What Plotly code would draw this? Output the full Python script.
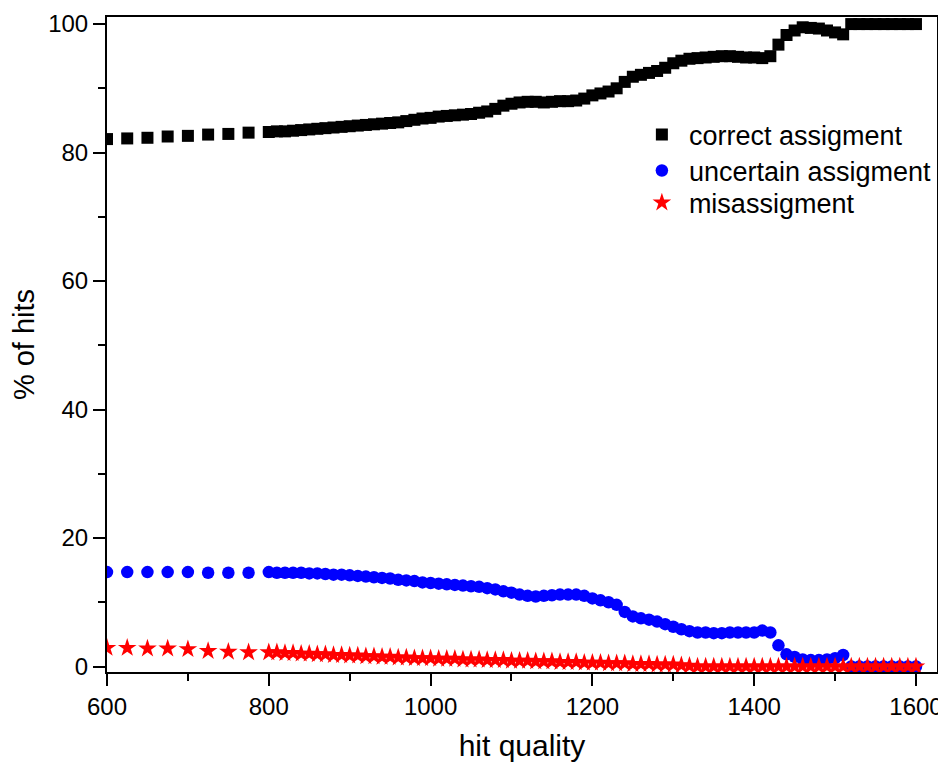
import plotly.graph_objects as go

# ---- data ----
hit_quality = [600, 625, 650, 675, 700, 725, 750, 775,
               800, 810, 820, 830, 840, 850, 860, 870, 880, 890,
               900, 910, 920, 930, 940, 950, 960, 970, 980, 990,
               1000, 1010, 1020, 1030, 1040, 1050, 1060, 1070, 1080, 1090,
               1100, 1110, 1120, 1130, 1140, 1150, 1160, 1170, 1180, 1190,
               1200, 1210, 1220, 1230, 1240, 1250, 1260, 1270, 1280, 1290,
               1300, 1310, 1320, 1330, 1340, 1350, 1360, 1370, 1380, 1390,
               1400, 1410, 1420, 1430, 1440, 1450, 1460, 1470, 1480, 1490,
               1500, 1510, 1520, 1530, 1540, 1550, 1560, 1570, 1580, 1590,
               1600]

correct = [82.1, 82.2, 82.3, 82.5, 82.6, 82.8, 82.9, 83.1,
           83.2, 83.3, 83.3, 83.4, 83.5, 83.6, 83.7, 83.8, 83.9, 84.0,
           84.1, 84.2, 84.3, 84.4, 84.5, 84.6, 84.7, 84.9, 85.1, 85.3,
           85.4, 85.6, 85.7, 85.8, 85.9, 86.0, 86.2, 86.4, 86.8, 87.3,
           87.6, 87.8, 87.9, 87.9, 87.8, 87.9, 88.0, 88.0, 88.1, 88.4,
           88.9, 89.2, 89.5, 90.0, 91.0, 91.8, 92.1, 92.4, 92.7, 93.2,
           93.9, 94.3, 94.6, 94.7, 94.8, 94.9, 95.0, 95.0, 94.9, 94.8,
           94.8, 94.7, 95.0, 96.8, 98.3, 99.0, 99.5, 99.4, 99.3, 99.0,
           98.7, 98.4, 100, 100, 100, 100, 100, 100, 100, 100,
           100]

uncertain = [14.7, 14.7, 14.7, 14.7, 14.7, 14.6, 14.6, 14.6,
             14.7, 14.6, 14.6, 14.6, 14.6, 14.5, 14.5, 14.4, 14.3, 14.3,
             14.2, 14.1, 14.0, 13.9, 13.8, 13.7, 13.5, 13.4, 13.3, 13.1,
             13.0, 12.9, 12.8, 12.7, 12.6, 12.5, 12.4, 12.2, 12.0, 11.7,
             11.5, 11.2, 11.0, 10.9, 11.0, 11.1, 11.2, 11.2, 11.2, 11.0,
             10.6, 10.3, 10.0, 9.6, 8.5, 7.8, 7.5, 7.3, 7.0, 6.6,
             6.2, 5.8, 5.5, 5.3, 5.3, 5.2, 5.2, 5.3, 5.3, 5.3,
             5.3, 5.6, 5.3, 3.3, 1.9, 1.5, 1.1, 1.0, 1.0, 1.1,
             1.3, 1.8, 0, 0, 0, 0, 0, 0, 0, 0,
             0]

misassigned = [2.9, 2.9, 2.8, 2.8, 2.7, 2.4, 2.3, 2.2,
               2.2, 2.2, 2.1, 2.1, 2.0, 2.0, 1.9, 1.9, 1.8, 1.8,
               1.7, 1.7, 1.6, 1.6, 1.5, 1.5, 1.4, 1.4, 1.3, 1.3,
               1.3, 1.2, 1.2, 1.2, 1.1, 1.1, 1.1, 1.0, 1.0, 1.0,
               0.9, 0.9, 0.9, 0.8, 0.8, 0.8, 0.7, 0.7, 0.7, 0.6,
               0.6, 0.6, 0.5, 0.5, 0.5, 0.4, 0.4, 0.4, 0.3, 0.3,
               0.3, 0.2, 0.1, 0, 0, 0, 0, 0, 0, 0,
               0, 0, 0, 0, 0, 0, 0, 0, 0, 0,
               0, 0, 0, 0, 0, 0, 0, 0, 0, 0,
               0]

series_names = ["correct assigment", "uncertain assigment", "misassigment"]

FONT = "Arial, 'Liberation Sans', sans-serif"

fig = go.Figure()
fig.add_trace(go.Scatter(x=hit_quality, y=correct, mode="markers", name=series_names[0],
                         legend="legend",
                         marker=dict(symbol="square", size=12, color="black", line=dict(width=0))))
fig.add_trace(go.Scatter(x=hit_quality, y=uncertain, mode="markers", name=series_names[1],
                         legend="legend2",
                         marker=dict(symbol="circle", size=12.5, color="#0000FF", line=dict(width=0))))
fig.add_trace(go.Scatter(x=hit_quality, y=misassigned, mode="markers", name=series_names[2],
                         legend="legend3",
                         marker=dict(symbol="star", size=14, color="#FF0000", line=dict(width=0))))

axis_common = dict(
    showline=True, linecolor="black", linewidth=2, mirror=True,
    ticks="outside", ticklen=12, tickwidth=2, tickcolor="black",
    showgrid=False, zeroline=False, automargin=False,
    tickfont=dict(family=FONT, size=24, color="black"),
)

legend_common = dict(x=0.636, xanchor="left", yanchor="middle", itemwidth=44,
                     bgcolor="rgba(0,0,0,0)", borderwidth=0,
                     font=dict(family=FONT, size=27, color="black"))

# the page body adds an 8px offset, so the figure is 8px smaller and margins compensate
fig.update_layout(
    width=938, height=754,
    paper_bgcolor="white", plot_bgcolor="white",
    margin=dict(l=99, r=9, t=9, b=90, autoexpand=False),
    font=dict(family=FONT, color="black"),
    showlegend=True,
    legend=dict(y=0.820, **legend_common),
    legend2=dict(y=0.765, **legend_common),
    legend3=dict(y=0.716, **legend_common),
    xaxis=dict(range=[600, 1626], tick0=600, dtick=200,
               minor=dict(ticks="outside", ticklen=7, tickwidth=2, tickcolor="black", dtick=100),
               title=dict(text="hit quality", font=dict(family=FONT, size=30), standoff=30),
               **axis_common),
    yaxis=dict(range=[-0.85, 101.1], tick0=0, dtick=20,
               minor=dict(ticks="outside", ticklen=7, tickwidth=2, tickcolor="black", dtick=10),
               title=dict(text="% of hits", font=dict(family=FONT, size=29), standoff=6),
               **axis_common),
)

fig.write_html("out.html")
